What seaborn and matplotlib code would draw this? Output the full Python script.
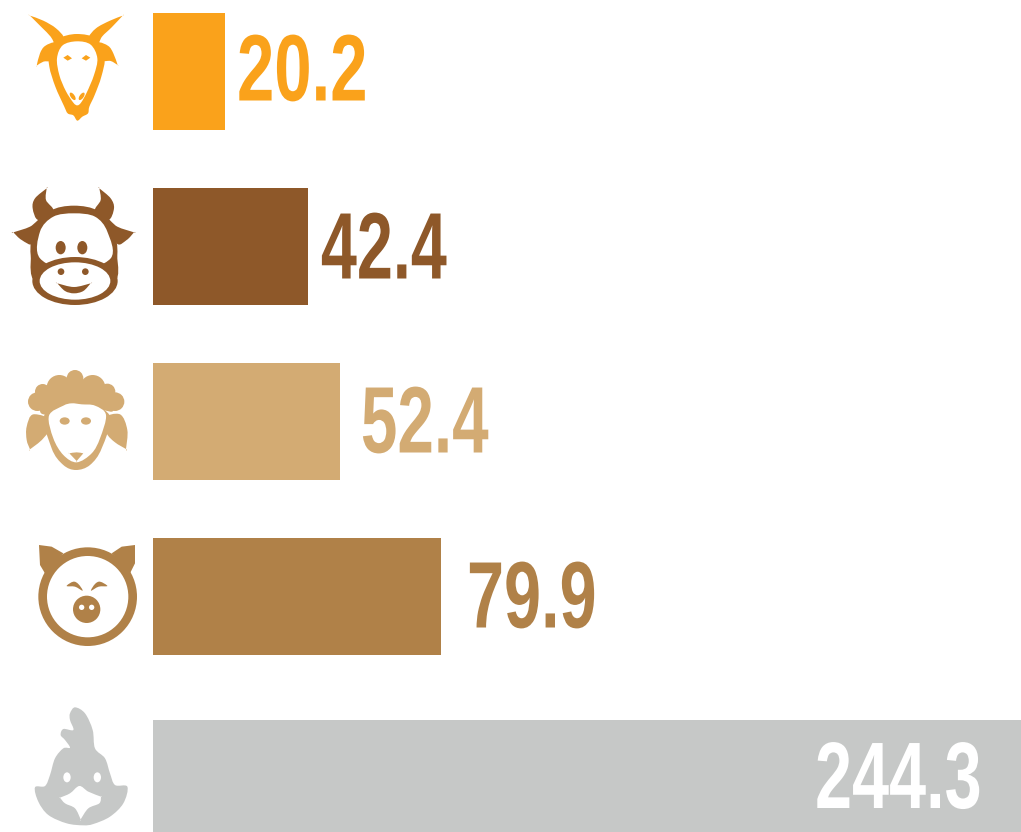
import numpy as np
import pandas as pd
import matplotlib
matplotlib.use("Agg")
import matplotlib.pyplot as plt
import seaborn as sns
from matplotlib.path import Path
from matplotlib.patches import PathPatch, Ellipse
from matplotlib.patheffects import AbstractPathEffect
from matplotlib.transforms import Affine2D

# data: bar lengths, labels as printed on it
animals = ["goat", "cow", "sheep", "pig", "chicken"]
bar_lengths = [20.26, 43.6, 52.6, 81.06, 244.3]
labels = ["20.2", "42.4", "52.4", "79.9", "244.3"]
colors = ["#FAA21B", "#8E5829", "#D3AB73", "#B08148", "#C6C8C7"]
label_colors = ["#FAA21B", "#8E5829", "#D3AB73", "#B08148", "#FFFFFF"]

# pixel offsets of labels from the bar ends
label_gap = [12, 13, 21, 26, -242]
label_drop = [29, 32, 31, 31, 36.5]
label_shift = [0, 0, 0, 0, 36]
label_squeeze = [0.71, 0.685, 0.695, 0.705, 0.705]


class Squeeze(AbstractPathEffect):
    # no condensed font installed, so narrow the glyphs when drawn
    def __init__(self, sx, dx=0):
        super().__init__()
        self.sx = sx
        self.dx = dx

    def draw_path(self, renderer, gc, tpath, affine, rgbFace=None):
        tr = Affine2D().scale(self.sx, 1) + affine + Affine2D().translate(self.dx, 0)
        renderer.draw_path(gc, tpath, tr, rgbFace)


sns.set_style("white")
plt.rcParams["font.family"] = ["Liberation Sans", "DejaVu Sans"]

df = pd.DataFrame({"animal": animals, "value": bar_lengths})

fig = plt.figure(figsize=(10.21, 8.32), dpi=100)
ax = fig.add_axes([153 / 1021, 0, 868 / 1021, 1])
sns.barplot(data=df, y="animal", x="value", hue="animal", order=animals, hue_order=animals,
            palette=colors, saturation=1, width=117 / 175, dodge=False, legend=False,
            edgecolor="none", linewidth=0, ax=ax)
ax.set_xlim(0, 244.3)
ax.set_ylim(-0.4086 + 832 / 175, -0.4086)
ax.axis("off")

# the chicken row sits a little lower than the regular spacing
last = ax.patches[4]
last.set_y(last.get_y() + 7 / 175)

for i, (v, s) in enumerate(zip(bar_lengths, labels)):
    ax.annotate(s, xy=(v, i), xytext=(label_gap[i], -label_drop[i]), textcoords="offset pixels",
                ha="left", va="baseline", fontsize=68, fontweight="bold", color=label_colors[i],
                path_effects=[Squeeze(label_squeeze[i], label_shift[i])], annotation_clip=False)

# icon layer in pixel coordinates
ic = fig.add_axes([0, 0, 1, 1], facecolor="none")
ic.set_xlim(0, 1021)
ic.set_ylim(832, 0)
ic.axis("off")


def blob(pts, off, color):
    # closed smooth outline through crop points (crop scale 3x), doubled point = sharp tip
    p = np.array(pts, dtype=float) / 3 + off
    n = len(p)
    verts = [p[0]]
    codes = [Path.MOVETO]
    for i in range(n):
        p0, p1, p2, p3 = p[i - 1], p[i], p[(i + 1) % n], p[(i + 2) % n]
        verts += [p1 + (p2 - p0) / 6, p2 - (p3 - p1) / 6, p2]
        codes += [Path.CURVE4] * 3
    ic.add_patch(PathPatch(Path(verts, codes), fc=color, ec="none", lw=0))


def poly(pts, off, color):
    p = np.array(pts, dtype=float) / 3 + off
    ic.add_patch(plt.Polygon(p, closed=True, fc=color, ec="none", lw=0))


def oval(c, rx, ry, off, color, angle=0):
    xy = np.array(c, dtype=float) / 3 + off
    ic.add_patch(Ellipse(xy, 2 * rx / 3, 2 * ry / 3, angle=angle, fc=color, ec="none", lw=0))


# goat
o = np.array([0, 0])
c = colors[0]
blob([(90, 47), (90, 47), (130, 62), (168, 85), (192, 115), (170, 138), (152, 110), (125, 82)], o, c)
blob([(368, 47), (368, 47), (330, 62), (288, 85), (266, 115), (290, 138), (306, 110), (335, 82)], o, c)
blob([(165, 128), (135, 138), (120, 160), (110, 197), (110, 197), (130, 185), (152, 182), (165, 160)], o, c)
blob([(295, 128), (325, 138), (340, 160), (353, 195), (353, 195), (332, 183), (308, 182), (295, 160)], o, c)
blob([(230, 102), (288, 116), (314, 170), (304, 230), (284, 285), (268, 320), (264, 340), (247, 350),
      (232, 362), (220, 346), (203, 340), (192, 318), (166, 260), (148, 200), (148, 150), (175, 116)], o, c)
blob([(230, 124), (272, 134), (292, 175), (282, 225), (260, 278), (243, 308), (232, 316), (220, 308),
      (197, 272), (178, 225), (171, 175), (188, 136)], o, "white")
poly([(190, 173), (203, 165), (216, 175), (203, 182)], o, c)
poly([(271, 173), (258, 165), (245, 175), (258, 182)], o, c)
oval((218, 289), 6, 13, o, c, angle=-35)
oval((245, 289), 6, 13, o, c, angle=35)

# cow
o = np.array([0, 175])
c = colors[1]
blob([(140, 40), (140, 40), (105, 70), (98, 100), (115, 135), (160, 108), (138, 75)], o, c)
blob([(298, 40), (298, 40), (332, 70), (342, 100), (325, 135), (285, 108), (302, 75)], o, c)
blob([(40, 172), (40, 172), (90, 155), (125, 130), (100, 205), (65, 195)], o, c)
blob([(402, 172), (402, 172), (352, 155), (320, 130), (350, 205), (380, 195)], o, c)
blob([(222, 92), (295, 108), (340, 165), (352, 240), (330, 330), (120, 330), (92, 240), (103, 165), (150, 108)], o, c)
blob([(222, 115), (285, 125), (322, 170), (332, 250), (222, 290), (120, 250), (120, 170), (160, 125)], o, "white")
oval((225, 318), 128, 72, o, c)
oval((182, 218), 15, 20, o, c)
oval((247, 218), 15, 20, o, c)
oval((225, 318), 106, 56, o, "white")
oval((183, 290), 10, 10, o, c)
oval((256, 290), 10, 10, o, c)
blob([(172, 325), (172, 325), (222, 336), (272, 325), (272, 325), (250, 348), (222, 355), (195, 348)], o, c)

# sheep
o = np.array([0, 355])
c = colors[2]
blob([(100, 178), (80, 215), (80, 255), (90, 283), (90, 283), (130, 250), (160, 200)], o, c)
blob([(360, 178), (382, 225), (378, 282), (378, 282), (345, 262), (320, 235), (310, 190)], o, c)
blob([(135, 175), (155, 280), (190, 330), (228, 345), (270, 330), (305, 280), (328, 180), (230, 140)], o, c)
blob([(120, 160), (140, 100), (225, 80), (310, 100), (340, 165), (310, 165),
      (285, 155), (245, 155), (215, 155), (190, 160), (160, 170), (130, 178)], o, c)
for cx, cy, r in [(112, 140, 28), (128, 110, 23), (178, 98, 38), (225, 70, 25), (278, 98, 38),
                  (322, 110, 24), (345, 140, 28)]:
    oval((cx, cy), r, r, o, c)
blob([(147, 182), (190, 152), (215, 145), (245, 148), (285, 152), (318, 180), (300, 250), (275, 295),
      (230, 322), (190, 300), (160, 250)], o, "white")
blob([(208, 295), (208, 295), (230, 292), (250, 295), (250, 295), (230, 318), (230, 318)], o, c)
oval((194, 198), 15, 11, o, c)
oval((258, 198), 15, 11, o, c)

# pig
o = np.array([20, 530])
c = colors[3]
poly([(57, 45), (95, 50), (130, 70), (100, 100), (75, 130), (60, 105)], o, c)
poly([(345, 45), (305, 50), (275, 70), (305, 100), (330, 130), (345, 100)], o, c)
oval((203, 200), 148, 148, o, c)
oval((203, 200), 122, 122, o, "white")
oval((200, 238), 41, 41, o, c)
oval((185, 232), 8, 8, o, "white")
oval((215, 232), 8, 8, o, "white")
blob([(140, 168), (160, 155), (175, 162), (188, 182), (165, 170)], o, c)
blob([(262, 168), (240, 155), (225, 162), (213, 182), (236, 170)], o, c)

# chicken
o = np.array([20, 700])
c = colors[4]
blob([(150, 40), (165, 22), (195, 40), (218, 90), (225, 145), (255, 175), (270, 220), (285, 255), (322, 260),
      (310, 310), (270, 350), (220, 372), (190, 376), (140, 370), (85, 345), (55, 305), (45, 262), (75, 258),
      (90, 225), (105, 175), (130, 145), (150, 143), (135, 120), (122, 105), (130, 87), (160, 90), (150, 60)], o, c)
oval((141, 232), 11, 15, o, "white")
oval((232, 232), 11, 15, o, "white")
blob([(120, 293), (120, 293), (150, 280), (178, 258), (205, 275), (243, 290), (243, 290), (238, 310), (205, 325),
      (182, 358), (182, 358), (165, 325), (135, 310)], o, "white")

fig.savefig("out.png", dpi=100)
